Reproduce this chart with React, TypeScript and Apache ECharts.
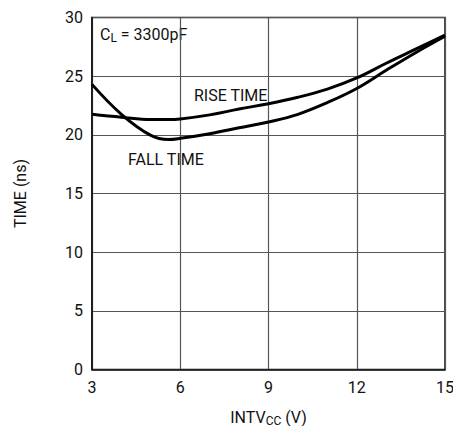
import React, { useEffect, useRef } from "react";
import * as echarts from "echarts";

const xValues = [3, 4, 5, 5.6, 6, 7, 8, 9, 10, 11, 12, 13, 14, 15];
const riseTime = [21.75, 21.5, 21.3, 21.3, 21.35, 21.7, 22.2, 22.65, 23.2, 23.9, 24.85, 26.1, 27.3, 28.5];
const fallTime = [24.3, 21.75, 19.95, 19.6, 19.7, 20.1, 20.6, 21.1, 21.75, 22.75, 23.95, 25.5, 27.0, 28.4];

const FONT = "Roboto, sans-serif";

export default function App() {
  const ref = useRef<HTMLDivElement>(null);
  useEffect(() => {
    if (!ref.current) return;
    const chart = echarts.init(ref.current, undefined, { renderer: "svg" });
    const toPairs = (ys: number[]) => xValues.map((x, i) => [x, ys[i]]);
    chart.setOption({
      animation: false,
      grid: { left: 92, right: 8, top: 17.5, bottom: 56.5, containLabel: false, outerBoundsMode: "none" },
      xAxis: {
        type: "value",
        min: 3,
        max: 15,
        interval: 3,
        axisLine: { show: true, lineStyle: { color: "#111", width: 1.5 } },
        axisTick: { show: false },
        splitLine: { show: true, lineStyle: { color: "#555", width: 1.2 } },
        axisLabel: { color: "#111", fontSize: 16, fontFamily: FONT, margin: 10 },
        name: "INTV{sub|CC} (V)",
        nameLocation: "middle",
        nameGap: 38,
        nameTextStyle: {
          color: "#111",
          fontSize: 16,
          fontFamily: FONT,
          rich: { sub: { fontSize: 12, fontFamily: FONT, color: "#111", padding: [7, 0, 0, 0] } },
        },
      },
      yAxis: {
        type: "value",
        min: 0,
        max: 30,
        interval: 5,
        axisLine: { show: true, lineStyle: { color: "#111", width: 1.5 } },
        axisTick: { show: false },
        splitLine: { show: true, lineStyle: { color: "#555", width: 1.2 } },
        axisLabel: { color: "#111", fontSize: 16, fontFamily: FONT, margin: 9 },
        name: "TIME (ns)",
        nameLocation: "middle",
        nameGap: 64,
        nameRotate: 90,
        nameTextStyle: { color: "#111", fontSize: 16, fontFamily: FONT },
      },
      graphic: [
        {
          type: "rect",
          shape: { x: 92, y: 17.5, width: 353, height: 352 },
          style: { fill: "none", stroke: "#111", lineWidth: 1.5 },
          silent: true,
        },
        {
          type: "text",
          x: 100,
          y: 25,
          style: {
            text: "C{sub|L} = 3300pF",
            fill: "#111",
            fontSize: 16,
            fontFamily: FONT,
            rich: { sub: { fontSize: 12, fontFamily: FONT, fill: "#111", padding: [7, 0, 0, 0] } },
          },
        },
        {
          type: "text",
          x: 194,
          y: 87,
          style: { text: "RISE TIME", fill: "#111", fontSize: 16, fontFamily: FONT },
        },
        {
          type: "text",
          x: 128,
          y: 151,
          style: { text: "FALL TIME", fill: "#111", fontSize: 16, fontFamily: FONT },
        },
      ],
      series: [
        {
          type: "line",
          name: "RISE TIME",
          data: toPairs(riseTime),
          smooth: 0.4,
          showSymbol: false,
          lineStyle: { color: "#000", width: 3 },
        },
        {
          type: "line",
          name: "FALL TIME",
          data: toPairs(fallTime),
          smooth: 0.4,
          showSymbol: false,
          lineStyle: { color: "#000", width: 3 },
        },
      ],
    });
    return () => chart.dispose();
  }, []);
  return (
    <div
      ref={ref}
      style={{ position: "fixed", left: 0, top: 0, width: 453, height: 426, background: "#fff" }}
    />
  );
}
